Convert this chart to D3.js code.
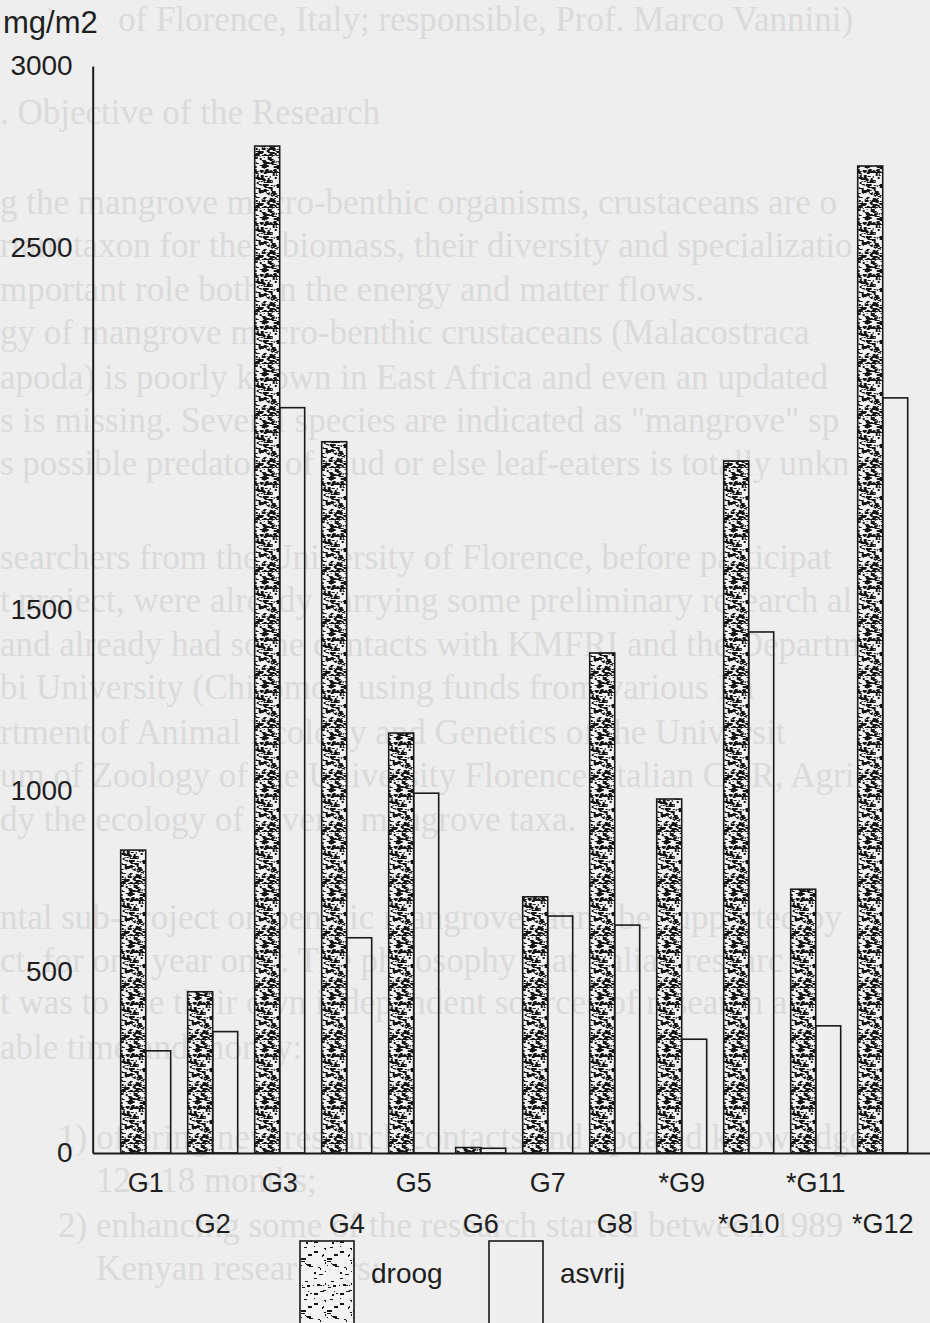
<!DOCTYPE html>
<html>
<head>
<meta charset="utf-8">
<script src="https://cdn.jsdelivr.net/npm/d3@7"></script>
<style>
  body { margin: 0; background: #eeeeee; }
  svg { display: block; }
</style>
</head>
<body>
<svg id="chart" width="930" height="1323"></svg>
<script>
// values, mg/m2
var groups = ["G1", "G2", "G3", "G4", "G5", "G6", "G7", "G8", "*G9", "*G10", "*G11", "*G12"];
var droog = [836, 445, 2779, 1963, 1159, 15, 707, 1380, 977, 1910, 728, 2724];
var asvrij = [282, 335, 2057, 594, 993, 13, 654, 629, 314, 1438, 351, 2084];
var series = ["droog", "asvrij"];
var yTicks = [0, 500, 1000, 1500, 2500, 3000];
var yUnit = "mg/m2";

// faint text of the page behind the chart
var pageLines = [
  "of Florence, Italy; responsible, Prof. Marco Vannini)",
  ". Objective of the Research",
  "g the mangrove macro-benthic organisms, crustaceans are o",
  "rtant taxon for their biomass, their diversity and specializatio",
  "mportant role both in the energy and matter flows.",
  "gy of mangrove macro-benthic crustaceans (Malacostraca",
  "apoda) is poorly known in East Africa and even an updated",
  "s is missing. Several species are indicated as \"mangrove\" sp",
  "s possible predators of mud or else leaf-eaters is totally unkn",
  "searchers from the University of Florence, before participat",
  "t project, were already carrying some preliminary research al",
  "and already had some contacts with KMFRI and the Departm",
  "bi University (Chiromo), using funds from various Ita",
  "rtment of Animal Ecology and Genetics of the Universit",
  "um of Zoology of the University Florence, Italian CNR, Agri",
  "dy the ecology of several mangrove taxa.",
  "ntal sub-project on benthic mangrove fauna be supported by",
  "ct, for one year only. The philosophy that Italian researc",
  "t was to use their own independent sources of research a",
  "able time and money:",
  "1) offering new research contacts and updated knowledge",
  "12 - 18 months;",
  "2) enhancing some of the research started between 1989",
  "Kenyan researchers;"
];
var pageLayout = [
  [118, 31], [0, 124], [0, 214], [0, 257], [0, 301], [0, 344], [0, 389], [0, 432],
  [0, 475], [0, 569], [0, 612], [0, 656], [0, 699], [0, 744], [0, 787], [0, 831],
  [0, 929], [0, 972], [0, 1014], [0, 1059], [58, 1149], [96, 1192], [58, 1237], [96, 1280]
];

var svg = d3.select("#chart");
var defs = svg.append("defs");

function lcg(seed) {
  var s = seed;
  return function() {
    s = (s * 1664525 + 1013904223) % 4294967296;
    return s / 4294967296;
  };
}

function makeStipple(id, count, seed) {
  var rnd = lcg(seed);
  var p = defs.append("pattern")
      .attr("id", id)
      .attr("patternUnits", "userSpaceOnUse")
      .attr("width", 26)
      .attr("height", 52);
  p.append("rect").attr("width", 26).attr("height", 52).attr("fill", "#f3f3f3");
  for (var i = 0; i < count; i++) {
    p.append("rect")
      .attr("x", Math.floor(rnd() * 26))
      .attr("y", Math.floor(rnd() * 52))
      .attr("width", 1 + Math.floor(rnd() * 4))
      .attr("height", 1 + Math.floor(rnd() * 2))
      .attr("fill", "#151515");
  }
}
makeStipple("stipple", 230, 7);
makeStipple("stippleLight", 40, 13);

svg.append("rect").attr("width", 930).attr("height", 1323).attr("fill", "#eeeeee");

svg.append("g").selectAll("text")
  .data(pageLines)
  .join("text")
    .attr("x", function(d, i) { return pageLayout[i][0]; })
    .attr("y", function(d, i) { return pageLayout[i][1]; })
    .attr("font-family", "Liberation Serif")
    .attr("font-size", 35)
    .attr("fill", "#dadada")
    .text(function(d) { return d; });

var y = d3.scaleLinear().domain([0, 3000]).range([1153, 66]);

var x = d3.scaleBand()
    .domain(groups)
    .range([92.7, 935.7])
    .paddingInner(0.254)
    .paddingOuter(0.418);

var xSub = d3.scaleBand()
    .domain(series)
    .range([0, x.bandwidth()]);

var rows = groups.map(function(g, i) {
  return { group: g, values: [
    { key: "droog", value: droog[i] },
    { key: "asvrij", value: asvrij[i] }
  ]};
});

var bars = svg.append("g").selectAll("g")
  .data(rows)
  .join("g")
    .attr("transform", function(d) { return "translate(" + x(d.group) + ",0)"; });

bars.selectAll("rect")
  .data(function(d) { return d.values; })
  .join("rect")
    .attr("x", function(d) { return xSub(d.key); })
    .attr("y", function(d) { return y(d.value); })
    .attr("width", xSub.bandwidth())
    .attr("height", function(d) { return y(0) - y(d.value); })
    .attr("fill", function(d) { return d.key === "droog" ? "url(#stipple)" : "none"; })
    .attr("stroke", "#1a1a1a")
    .attr("stroke-width", 1.6);

var yAxis = svg.append("g")
    .attr("transform", "translate(92.7,0)")
    .call(d3.axisLeft(y).tickValues(yTicks).tickSize(0).tickPadding(20).tickFormat(d3.format("d")));
yAxis.select(".domain").attr("stroke", "#1a1a1a").attr("stroke-width", 2);
yAxis.selectAll("text")
    .attr("font-family", "Liberation Sans")
    .attr("font-size", 28)
    .attr("fill", "#1e1e1e");

var xAxis = svg.append("g")
    .attr("transform", "translate(0,1153)")
    .call(d3.axisBottom(x).tickSize(0).tickPadding(0));
xAxis.select(".domain").attr("stroke", "#1a1a1a").attr("stroke-width", 2.2);
xAxis.selectAll("text")
    .attr("font-family", "Liberation Sans")
    .attr("font-size", 27)
    .attr("fill", "#1e1e1e")
    .attr("dy", null)
    .attr("y", function(d, i) { return i % 2 === 0 ? 39 : 80; });

svg.append("text")
    .attr("x", 3)
    .attr("y", 33)
    .attr("font-family", "Liberation Sans")
    .attr("font-size", 31)
    .attr("fill", "#1e1e1e")
    .text(yUnit);

// legend
var legend = svg.append("g").selectAll("g")
  .data(series)
  .join("g")
    .attr("transform", function(d, i) { return "translate(" + (300 + i * 189) + ",1241)"; });

legend.append("rect")
    .attr("width", 54)
    .attr("height", 100)
    .attr("fill", function(d) { return d === "droog" ? "url(#stippleLight)" : "none"; })
    .attr("stroke", "#1a1a1a")
    .attr("stroke-width", 1.6);

legend.append("text")
    .attr("x", 71)
    .attr("y", 42)
    .attr("font-family", "Liberation Sans")
    .attr("font-size", 28)
    .attr("fill", "#1e1e1e")
    .text(function(d) { return d; });
</script>
</body>
</html>
